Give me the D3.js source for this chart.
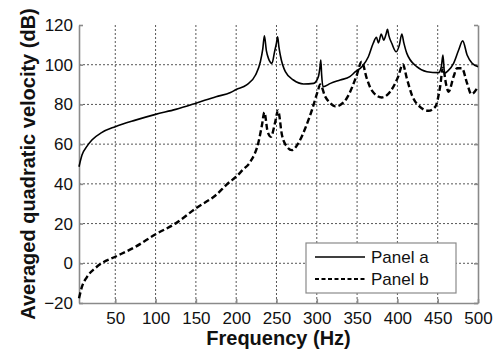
<!DOCTYPE html>
<html><head><meta charset="utf-8">
<script src="https://cdn.jsdelivr.net/npm/d3@7"></script>
<style>
body {
    margin: 0;
    background: #fff;
    font-family: "Liberation Sans", Arial, sans-serif;
}

.grid line {
    stroke: #444;
    stroke-width: 0.9px;
    stroke-dasharray: 2,2;
}

.axis path, .axis line {
    stroke: #8a8a8a;
    stroke-width: 1.6px;
}

.axis text {
    font-size: 17px;
    fill: #111;
    font-family: "Liberation Sans", Arial, sans-serif;
}

.title {
    font-size: 20px;
    font-weight: bold;
    fill: #111;
}
</style></head><body>
<svg id="chart" width="503" height="352"></svg>

<script>
// curve "Panel a" (solid)
const freqA = [5, 8.7, 15, 21, 33, 50, 75, 100, 125, 150, 175, 193, 200, 213, 224, 230, 233, 235, 237.5, 240, 244.4, 247.6, 250, 251.4, 253, 254.7, 261, 271, 283.6, 296, 302, 304, 305, 306, 307.7, 317, 329, 341, 348, 356, 364, 370, 374, 376.5, 380, 383, 386, 387.7, 389.5, 393, 398.5, 402.5, 405.5, 408, 411.7, 424, 436.6, 451, 454.5, 456.5, 458.5, 463, 469.7, 476, 481, 486.5, 492.7, 500];
const levelA = [48.6, 54.5, 59, 62.1, 65.8, 68.8, 72.1, 75, 77.5, 80.6, 83.9, 86, 87.5, 89.8, 94.8, 101.5, 108, 114.5, 107, 103.2, 100.7, 106.5, 111, 114, 109, 104.9, 96.5, 92.3, 90.3, 90.6, 94, 99, 102.4, 95, 88.9, 90.6, 92.3, 94, 96.5, 99, 104, 110.8, 113.8, 111, 115.5, 112.4, 115.5, 117.8, 114.5, 110.8, 106.5, 110, 115.5, 111, 105.7, 99, 96.5, 96, 99, 104.9, 95.7, 97, 100.7, 107.4, 112, 104.9, 100.7, 99];

// curve "Panel b" (dashed)
const freqB = [5, 8.7, 15, 25, 33, 50, 75, 100, 125, 150, 175, 190, 200, 208, 217.5, 227.8, 232, 235, 239, 243, 248.5, 251.9, 256.8, 263, 269, 277, 285.7, 294, 301, 304.3, 310.5, 316.8, 323, 329, 337, 349, 355.7, 362, 368, 380.6, 391, 401, 406.7, 411.7, 418, 428, 438.6, 447, 453, 456.5, 460.6, 463.5, 469.7, 474, 480, 486.5, 491.7, 500];
const levelB = [-17.6, -11.8, -6.8, -2.5, 0, 3.3, 8.3, 14.6, 20.1, 27.7, 34.4, 40.3, 43.6, 47, 51.1, 61.2, 69.6, 76, 66.3, 63.7, 71.3, 77, 64.6, 58.7, 57, 60.4, 68, 77.2, 86.4, 90, 83.9, 80.6, 79, 79.7, 83, 94, 101.5, 93.1, 87.2, 83.5, 86.4, 94, 100.2, 93.1, 84.7, 78.8, 76.8, 78.8, 88.9, 98.5, 89.8, 86.4, 94, 98.2, 98.2, 90.6, 85.2, 88.9];

const xTicks = [50, 100, 150, 200, 250, 300, 350, 400, 450, 500];
const yTicks = [-20, 0, 20, 40, 60, 80, 100, 120];
const xGrid = [50, 100, 150, 200, 250, 300, 350, 400, 450];
const yGrid = [0, 20, 40, 60, 80, 100];
const legendLabels = ["Panel a", "Panel b"];

const svg = d3.select("#chart");
const plotLeft = 79, plotRight = 478, plotTop = 25, plotBottom = 303;

const x = d3.scaleLinear().domain([5, 500]).range([plotLeft, plotRight]);
const y = d3.scaleLinear().domain([-20, 120]).range([plotBottom, plotTop]);

// grid
svg.append("g")
    .attr("class", "grid")
    .selectAll("line")
    .data(xGrid)
    .enter().append("line")
    .attr("x1", d => x(d)).attr("x2", d => x(d))
    .attr("y1", plotTop).attr("y2", plotBottom);

svg.append("g")
    .attr("class", "grid")
    .selectAll("line")
    .data(yGrid)
    .enter().append("line")
    .attr("x1", plotLeft).attr("x2", plotRight)
    .attr("y1", d => y(d)).attr("y2", d => y(d));

// axes
svg.append("g")
    .attr("class", "axis")
    .attr("transform", `translate(0,${plotBottom})`)
    .call(d3.axisBottom(x).tickValues(xTicks).tickSize(-4).tickSizeOuter(0).tickPadding(9));

svg.append("g")
    .attr("class", "axis")
    .attr("transform", `translate(${plotLeft},0)`)
    .call(d3.axisLeft(y).tickValues(yTicks).tickSize(-4).tickSizeOuter(0).tickPadding(6));

svg.append("g")
    .attr("class", "axis")
    .attr("transform", `translate(${plotRight},0)`)
    .call(d3.axisRight(y).tickValues(yTicks).tickSize(-4).tickSizeOuter(0).tickFormat(""));

// curves
const line = d3.line().curve(d3.curveMonotoneX);

svg.append("path")
    .attr("d", line(freqA.map((f, i) => [x(f), y(levelA[i])])))
    .attr("fill", "none")
    .attr("stroke", "#000")
    .attr("stroke-width", 1.6);

svg.append("path")
    .attr("d", line(freqB.map((f, i) => [x(f), y(levelB[i])])))
    .attr("fill", "none")
    .attr("stroke", "#000")
    .attr("stroke-width", 2.4)
    .attr("stroke-dasharray", "6,3");

// legend
const legend = svg.append("g").attr("transform", "translate(306,243)");
legend.append("rect")
    .attr("width", 150).attr("height", 50)
    .attr("fill", "#fff")
    .attr("stroke", "#8a8a8a")
    .attr("stroke-width", 1.2);

legend.selectAll("line")
    .data(legendLabels)
    .enter().append("line")
    .attr("x1", 9).attr("x2", 59)
    .attr("y1", (d, i) => 14 + i * 22).attr("y2", (d, i) => 14 + i * 22)
    .attr("stroke", "#000")
    .attr("stroke-width", (d, i) => i ? 1.8 : 1.4)
    .attr("stroke-dasharray", (d, i) => i ? "4,2.5" : null);

legend.selectAll("text")
    .data(legendLabels)
    .enter().append("text")
    .attr("x", 65)
    .attr("y", (d, i) => 20 + i * 22)
    .attr("font-size", "17px")
    .attr("fill", "#111")
    .text(d => d);

// axis titles
svg.append("text")
    .attr("class", "title")
    .attr("x", (plotLeft + plotRight) / 2)
    .attr("y", 345)
    .attr("text-anchor", "middle")
    .text("Frequency (Hz)");

svg.append("text")
    .attr("class", "title")
    .attr("transform", "translate(35,164) rotate(-90)")
    .attr("text-anchor", "middle")
    .text("Averaged quadratic velocity (dB)");
</script></body></html>
